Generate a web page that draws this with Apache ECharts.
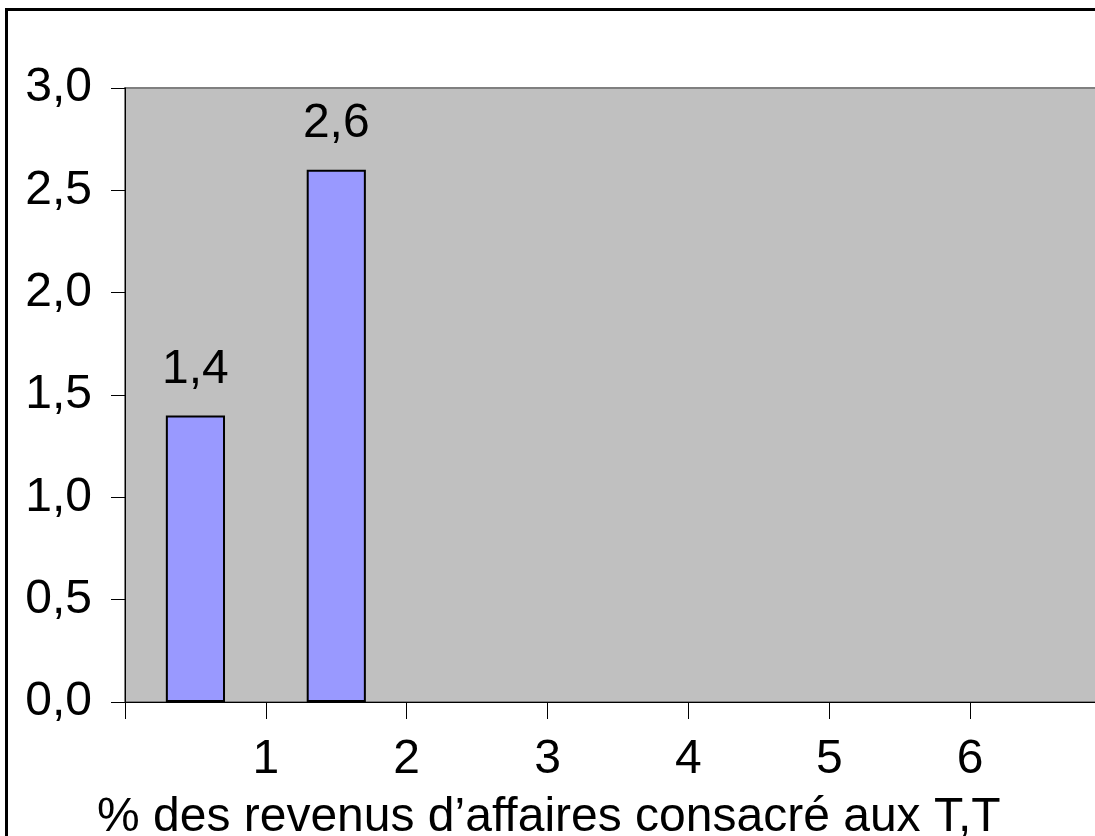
<!DOCTYPE html>
<html>
<head>
<meta charset="utf-8">
<script src="https://cdn.jsdelivr.net/npm/echarts@6/dist/echarts.min.js"></script>
<style>
  html, body { margin: 0; padding: 0; background: #fff; overflow: hidden; width: 1095px; height: 836px; }
  #chart { width: 1115px; height: 836px; }
</style>
</head>
<body>
<div id="chart"></div>
<script>
const categories = ['0–1', '1–2', '2–3', '3–4', '4–5', '5–6', '6–7'];
const values = [1.4, 2.6, null, null, null, null, null];
const xTickLabels = ['1', '2', '3', '4', '5', '6'];
const yTickLabels = ['0,0', '0,5', '1,0', '1,5', '2,0', '2,5', '3,0'];
const xTitle = '% des revenus d’affaires consacré aux T,T';

const regular = "'Liberation Sans', Arial, sans-serif";

const chart = echarts.init(document.getElementById('chart'), null, { renderer: 'canvas' });
chart.setOption({
  animation: false,
  backgroundColor: '#ffffff',
  title: {
    text: xTitle,
    left: 92,
    top: 789,
    textStyle: { fontFamily: regular, fontSize: 48, fontWeight: 'normal', color: '#000' }
  },
  grid: {
    left: 125, top: 88, bottom: 134, right: 4,
    show: true, backgroundColor: '#C0C0C0', borderColor: '#808080', borderWidth: 2
  },
  xAxis: [
    {
      type: 'category', data: categories, boundaryGap: true,
      axisLine: { show: false }, axisTick: { show: false }, axisLabel: { show: false }
    },
    {
      type: 'value', min: 0, max: categories.length, interval: 1, position: 'bottom',
      axisLine: { show: true, onZero: false, lineStyle: { color: '#000', width: 1 } },
      axisTick: { show: true, inside: false, length: 17, lineStyle: { color: '#000', width: 1 } },
      splitLine: { show: false },
      axisLabel: {
        margin: 34, fontFamily: regular, fontSize: 48, color: '#000',
        formatter: function (v) { return (v >= 1 && v <= xTickLabels.length) ? xTickLabels[v - 1] : ''; }
      }
    }
  ],
  yAxis: {
    type: 'value', min: 0, max: 3, interval: 0.5,
    axisLine: { show: true, lineStyle: { color: '#000', width: 1 } },
    axisTick: { show: true, inside: false, length: 14, lineStyle: { color: '#000', width: 1 } },
    splitLine: { show: false },
    axisLabel: {
      margin: 33, fontFamily: regular, fontSize: 48, color: '#000',
      formatter: function (v) { return yTickLabels[Math.round(v / 0.5)]; }
    }
  },
  series: [{
    type: 'bar', xAxisIndex: 0, yAxisIndex: 0,
    data: values, barWidth: '42%',
    itemStyle: { color: '#9999FF', borderColor: '#000', borderWidth: 2 },
    label: {
      show: true, position: 'top', distance: 22,
      fontFamily: regular, fontSize: 48, color: '#000',
      formatter: function (p) { return p.value == null ? '' : p.value.toFixed(1).replace('.', ','); }
    }
  }],
  graphic: [{
    type: 'polyline', z: 100, silent: true,
    shape: { points: [[6.5, 900], [6.5, 9.5], [1200, 9.5]] },
    style: { fill: 'none', stroke: '#000', lineWidth: 3 }
  }]
});
</script>
</body>
</html>
